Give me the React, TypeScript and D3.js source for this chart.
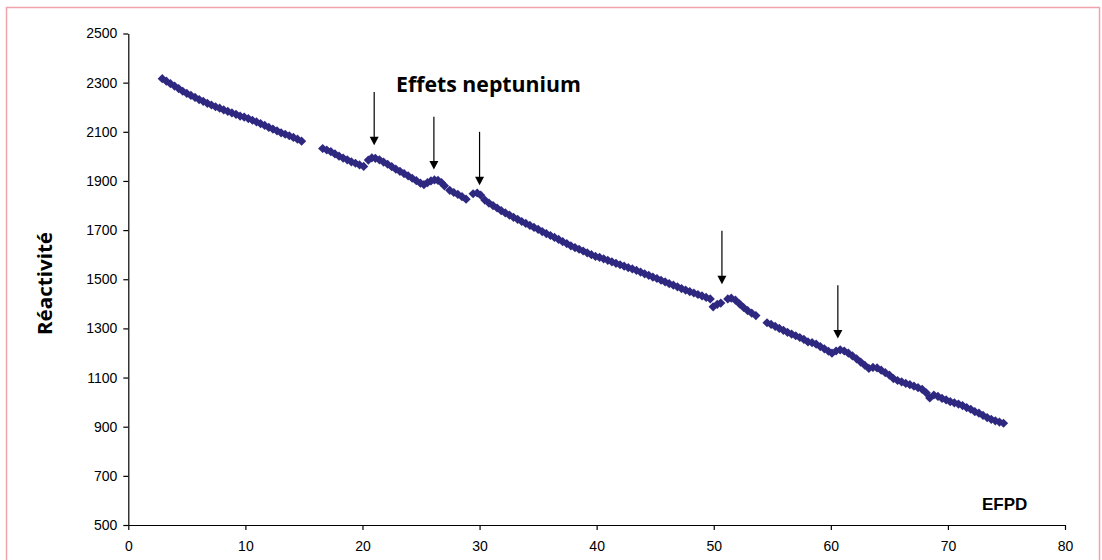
import React, { useEffect, useRef } from "react";
import * as d3 from "d3";

// EFPD (x) and reactivity (y)
const efpd = [
  2.9, 3.25, 3.6, 3.95, 4.3, 4.65, 5.0, 5.35, 5.7, 6.05, 6.4, 6.75, 7.1, 7.45, 7.8, 8.15, 8.5, 8.85, 9.2, 9.55,
  9.9, 10.25, 10.6, 10.95, 11.3, 11.65, 12.0, 12.35, 12.7, 13.05, 13.4, 13.75, 14.1, 14.45, 14.8,
  16.6, 16.95, 17.3, 17.65, 18.0, 18.35, 18.7, 19.05, 19.4, 19.75, 20.1,
  20.5, 20.8, 21.1, 21.45, 21.8, 22.15, 22.5, 22.85, 23.2, 23.55, 23.9, 24.25, 24.6, 24.95, 25.25,
  25.55, 25.85, 26.15, 26.45, 26.75, 27.0,
  27.45, 27.8, 28.15, 28.5, 28.85,
  29.45, 29.8, 30.1, 30.45, 30.8, 31.15, 31.5, 31.85, 32.2, 32.55, 32.9, 33.25, 33.6, 33.95, 34.3, 34.65,
  35.0, 35.35, 35.7, 36.05, 36.4, 36.75, 37.1, 37.45, 37.8, 38.15, 38.5, 38.85, 39.2, 39.55, 39.9,
  40.25, 40.6, 40.95, 41.3, 41.65, 42.0, 42.35, 42.7, 43.05, 43.4, 43.75, 44.1, 44.45, 44.8, 45.15,
  45.5, 45.85, 46.2, 46.55, 46.9, 47.25, 47.6, 47.95, 48.3, 48.65, 49.0, 49.35, 49.7,
  49.95, 50.3, 50.6, 51.2, 51.5, 51.85, 52.2, 52.55, 52.9, 53.25, 53.6,
  54.55, 54.9, 55.25, 55.6, 55.95, 56.3, 56.65, 57.0, 57.35, 57.7, 58.05, 58.4, 58.75, 59.1, 59.45,
  59.8, 60.1, 60.45, 60.8, 61.15, 61.5, 61.85, 62.2, 62.55, 62.9, 63.25, 63.6, 63.95, 64.3, 64.65,
  65.0, 65.35, 65.7, 66.05, 66.4, 66.75, 67.1, 67.45, 67.8, 68.15, 68.45, 68.8, 69.15, 69.5, 69.85,
  70.2, 70.55, 70.9, 71.25, 71.6, 71.95, 72.3, 72.65, 73.0, 73.35, 73.7, 74.05, 74.4, 74.75,
];

const reactivity = [
  2316, 2306, 2296, 2286, 2276, 2265, 2256, 2248, 2240, 2231, 2224, 2216, 2209, 2202, 2196, 2189, 2183, 2177, 2171, 2164,
  2160, 2154, 2147, 2140, 2133, 2126, 2118, 2111, 2104, 2096, 2090, 2084, 2077, 2070, 2062,
  2032, 2026, 2019, 2010, 2001, 1993, 1986, 1978, 1972, 1965, 1959,
  1985, 1994, 1992, 1986, 1977, 1968, 1958, 1948, 1939, 1930, 1921, 1911, 1901, 1891, 1885,
  1893, 1900, 1904, 1902, 1893, 1880,
  1862, 1853, 1845, 1836, 1826,
  1848, 1851, 1842, 1822, 1810, 1800, 1790, 1779, 1770, 1761, 1752, 1744, 1735, 1727, 1719, 1711,
  1703, 1694, 1686, 1678, 1670, 1662, 1653, 1645, 1636, 1629, 1622, 1615, 1607, 1600, 1593,
  1589, 1583, 1577, 1571, 1565, 1559, 1553, 1547, 1542, 1536, 1529, 1522, 1516, 1509, 1503,
  1496, 1489, 1482, 1476, 1469, 1462, 1456, 1450, 1444, 1438, 1432, 1426, 1420,
  1388, 1398, 1403, 1420, 1423, 1415, 1400, 1385, 1372, 1362, 1352,
  1323, 1316, 1308, 1300, 1292, 1284, 1277, 1270, 1263, 1255, 1245, 1242, 1236, 1226, 1217,
  1207, 1199, 1208, 1213, 1208, 1199, 1188, 1176, 1163, 1150, 1137, 1141, 1139, 1130, 1120,
  1110, 1096, 1088, 1082, 1076, 1071, 1065, 1059, 1052, 1038, 1017, 1029, 1023, 1015, 1009,
  1002, 997, 992, 986, 978, 971, 961, 955, 946, 937, 930, 924, 919, 914,
];

// "Effets neptunium" arrows
const arrowEfpd = [21.0, 26.1, 30.0, 50.7, 60.6];
const arrowTop = [2262, 2161, 2100, 1697, 1476];
const arrowTip = [2045, 1947, 1883, 1480, 1259];

const xTicks = [0, 10, 20, 30, 40, 50, 60, 70, 80];
const yTicks = [500, 700, 900, 1100, 1300, 1500, 1700, 1900, 2100, 2300, 2500];

const App: React.FC = () => {
  const svgRef = useRef<SVGSVGElement>(null);

  useEffect(() => {
    const svg = d3.select(svgRef.current);
    svg.selectAll("*").remove();

    const x = d3.scaleLinear().domain([0, 80]).range([128.3, 1065]);
    const y = d3.scaleLinear().domain([500, 2500]).range([525, 33.5]);

    // pink frame
    svg
      .append("rect")
      .attr("x", 6.5)
      .attr("y", 7.5)
      .attr("width", 1093)
      .attr("height", 570)
      .attr("fill", "none")
      .attr("stroke", "#f0a3aa")
      .attr("stroke-width", 1.5);

    const tickFont = "'Liberation Sans', Arial, sans-serif";

    // Y axis
    const yAxis = svg
      .append("g")
      .attr("transform", `translate(${x(0)},0)`)
      .call(
        d3
          .axisLeft(y)
          .tickValues(yTicks)
          .tickFormat(d3.format("d"))
          .tickSize(5)
          .tickSizeOuter(0)
          .tickPadding(6)
      );
    yAxis.attr("font-size", null).attr("font-family", null);
    yAxis.selectAll("text").style("font-family", tickFont).style("font-size", "14px").attr("fill", "#000");

    // X axis
    const xAxis = svg
      .append("g")
      .attr("transform", `translate(0,${y(500)})`)
      .call(
        d3
          .axisBottom(x)
          .tickValues(xTicks)
          .tickFormat(d3.format("d"))
          .tickSize(5)
          .tickSizeOuter(0)
          .tickPadding(11)
      );
    xAxis.attr("font-size", null).attr("font-family", null);
    xAxis.selectAll("text").style("font-family", tickFont).style("font-size", "14px").attr("fill", "#000");
    svg.selectAll(".domain, .tick line").attr("stroke", "#000").attr("stroke-width", 1.2);

    // markers
    const diamond = d3.symbol().type(d3.symbolDiamond2).size(54);
    svg
      .append("g")
      .selectAll("path")
      .data(efpd.map((e, i) => ({ e, r: reactivity[i] })))
      .join("path")
      .attr("transform", (d) => `translate(${x(d.e)},${y(d.r)})`)
      .attr("d", diamond() as string)
      .attr("fill", "#2f2880");

    // arrows
    arrowEfpd.forEach((e, i) => {
      const ax = x(e);
      const tip = y(arrowTip[i]);
      svg
        .append("line")
        .attr("x1", ax)
        .attr("x2", ax)
        .attr("y1", y(arrowTop[i]))
        .attr("y2", tip - 7)
        .attr("stroke", "#000")
        .attr("stroke-width", 1.2);
      svg
        .append("path")
        .attr("d", `M${ax - 4.5},${tip - 8.5}L${ax + 4.5},${tip - 8.5}L${ax},${tip}Z`)
        .attr("fill", "#000");
    });

    // titles
    svg
      .append("text")
      .attr("x", 396)
      .attr("y", 91.5)
      .attr("textLength", 185)
      .attr("lengthAdjust", "spacingAndGlyphs")
      .style("font-family", "'Open Sans', sans-serif")
      .style("font-weight", "bold")
      .style("font-size", "21px")
      .text("Effets neptunium");

    svg
      .append("text")
      .attr("transform", `translate(51.5,283.5) rotate(-90)`)
      .attr("text-anchor", "middle")
      .attr("textLength", 103)
      .attr("lengthAdjust", "spacingAndGlyphs")
      .style("font-family", "'Open Sans', sans-serif")
      .style("font-weight", "bold")
      .style("font-size", "20px")
      .text("Réactivité");

    svg
      .append("text")
      .attr("x", 982)
      .attr("y", 509.5)
      .style("font-family", tickFont)
      .style("font-weight", "bold")
      .style("font-size", "17px")
      .text("EFPD");
  }, []);

  return (
    <svg
      ref={svgRef}
      width={1102}
      height={560}
      style={{ position: "absolute", left: 0, top: 0, background: "#fff" }}
    ></svg>
  );
};

export default App;
